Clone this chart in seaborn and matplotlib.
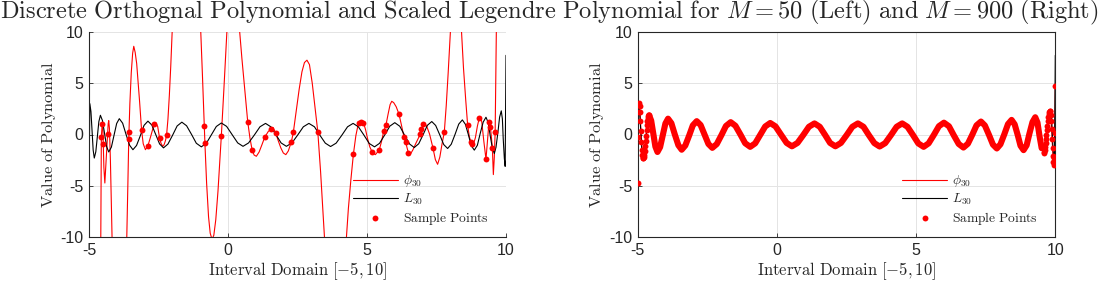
import matplotlib
matplotlib.use("Agg")
import matplotlib.pyplot as plt
import seaborn as sns
import pandas as pd

# ---- scaled Legendre L_30 ----
x_leg = [-5.00, -4.97, -4.93, -4.89, -4.85, -4.81, -4.755, -4.70, -4.645, -4.59,
         -4.515, -4.44, -4.365, -4.29, -4.195, -4.10, -4.005, -3.91, -3.79, -3.67,
         -3.54, -3.42, -3.29, -3.15, -3.02, -2.88, -2.74, -2.60, -2.46, -2.32,
         -2.16, -1.99, -1.83, -1.66, -1.49, -1.31, -1.14, -0.96, -0.78, -0.60,
         -0.42, -0.24, -0.05, 0.15, 0.35, 0.54, 0.74, 0.95, 1.15, 1.35,
         1.54, 1.73, 1.91, 2.10, 2.30, 2.51, 2.71, 2.91, 3.11, 3.30,
         3.50, 3.69, 3.89, 4.10, 4.30, 4.50, 4.69, 4.89, 5.08, 5.27,
         5.45, 5.64, 5.82, 6.00, 6.18, 6.35, 6.53, 6.70, 6.86, 7.02,
         7.17, 7.33, 7.47, 7.62, 7.76, 7.90, 8.03, 8.17, 8.30, 8.43,
         8.54, 8.65, 8.75, 8.86, 8.97, 9.07, 9.18, 9.28, 9.36, 9.43,
         9.51, 9.58, 9.64, 9.71, 9.77, 9.83, 9.87, 9.90, 9.94, 9.97, 10.00]
y_leg = [-4.7, 3.0, 2.23, 0.36, -1.52, -2.29, -1.68, -0.21, 1.26, 1.87,
         1.35, 0.09, -1.18, -1.70, -1.23, -0.08, 1.07, 1.54, 1.10, 0.03,
         -1.04, -1.48, -1.07, -0.09, 0.89, 1.30, 0.92, 0.00, -0.92, -1.30,
         -0.93, -0.05, 0.83, 1.20, 0.85, 0.00, -0.85, -1.20, -0.86, -0.04,
         0.78, 1.12, 0.79, -0.02, -0.82, -1.15, -0.82, -0.04, 0.75, 1.08,
         0.75, -0.04, -0.82, -1.15, -0.82, -0.04, 0.75, 1.08, 0.75, -0.05,
         -0.84, -1.17, -0.84, -0.05, 0.75, 1.08, 0.75, -0.06, -0.87, -1.20,
         -0.86, -0.03, 0.81, 1.15, 0.80, -0.06, -0.92, -1.27, -0.90, -0.01,
         0.89, 1.26, 0.88, -0.05, -0.98, -1.36, -0.95, 0.03, 1.01, 1.42,
         0.99, -0.05, -1.09, -1.52, -1.05, 0.08, 1.21, 1.68, 1.16, -0.09,
         -1.33, -1.85, -1.24, 0.23, 1.69, 2.30, 1.51, -0.40, -2.31, -3.10, 7.70]

# ---- discrete orthogonal polynomial phi_30, M = 50 ----
x_phi50 = [-5.00, -4.58, -4.565, -4.556, -4.526, -4.515, -4.50, -4.487, -4.465, -4.43,
           -4.395, -4.333, -4.31, -4.29, -4.265, -4.23, -4.19, -4.15, -4.05, -3.90,
           -3.75, -3.64, -3.60, -3.57, -3.53, -3.48, -3.43, -3.39, -3.34, -3.285,
           -3.23, -3.18, -3.11, -3.05, -2.97, -2.88, -2.78, -2.685, -2.645, -2.59,
           -2.53, -2.46, -2.41, -2.35, -2.30, -2.25, -2.21, -2.16, -2.11, -2.06,
           -2.01, -1.90, -1.50, -1.10, -0.98, -0.92, -0.855, -0.83, -0.77, -0.70,
           -0.64, -0.575, -0.51, -0.44, -0.36, -0.24, -0.15, -0.04, 0.05, 0.20,
           0.35, 0.42, 0.50, 0.60, 0.709, 0.79, 0.866, 0.94, 1.02, 1.12,
           1.22, 1.32, 1.45, 1.56, 1.62, 1.71, 1.80, 1.90, 1.99, 2.08,
           2.17, 2.28, 2.35, 2.46, 2.56, 2.66, 2.75, 2.84, 2.93, 3.03,
           3.13, 3.23, 3.33, 3.40, 3.47, 3.55, 3.85, 4.15, 4.26, 4.33,
           4.42, 4.51, 4.60, 4.68, 4.76, 4.84, 4.88, 4.95, 5.02, 5.10,
           5.19, 5.30, 5.44, 5.52, 5.60, 5.68, 5.76, 5.83, 5.89, 5.96,
           6.05, 6.15, 6.24, 6.33, 6.39, 6.49, 6.55, 6.65, 6.75, 6.85,
           6.92, 6.96, 7.03, 7.08, 7.15, 7.25, 7.37, 7.46, 7.54, 7.62,
           7.70, 7.78, 7.85, 7.92, 8.00, 8.20, 8.40, 8.47, 8.55, 8.62,
           8.68, 8.74, 8.79, 8.84, 8.90, 8.97, 9.04, 9.08, 9.13, 9.20,
           9.28, 9.33, 9.37, 9.40, 9.42, 9.44, 9.48, 9.51, 9.545, 9.58,
           9.61, 9.65, 9.70, 10.00]
y_phi50 = [-80, -12, -3.5, -0.22, 0.98, 1.1, 0.5, -0.88, -3.2, -4.72,
           -3.0, 0.05, 1.05, 1.35, 0.6, -2.5, -7.5, -13, -24, -30,
           -24, -10, -4.6, -0.41, 3.0, 6.0, 7.9, 8.58, 8.0, 6.9,
           5.0, 3.2, 0.47, -0.9, -1.48, -1.09, -0.18, 0.74, 0.99, 1.12,
           0.79, -0.37, -0.85, -1.15, -1.0, -0.6, -0.08, 1.5, 3.8, 6.6,
           10, 17, 28, 17, 10, 5.8, 0.86, -0.87, -4.7, -8.0,
           -9.6, -10.2, -9.8, -8.3, -5.5, -0.14, 4.3, 10, 15, 20,
           15, 10, 7.4, 4.5, 1.25, -0.35, -1.48, -2.0, -2.12, -1.7,
           -1.0, -0.27, 0.3, 0.56, 0.68, 0.19, -0.55, -1.3, -1.8, -1.96,
           -1.6, -0.70, 0.21, 2.4, 4.4, 6.1, 7.0, 7.23, 6.8, 5.0,
           2.6, 0.27, -3.6, -6.8, -10, -14, -22, -14, -10, -7.2,
           -4.4, -1.93, -0.1, 0.95, 1.2, 1.18, 1.1, 0.45, -0.4, -1.2,
           -1.73, -1.96, -1.51, -0.7, 0.3, 0.89, 2.0, 2.9, 3.23, 3.1,
           2.7, 1.99, 0.9, -0.24, -0.76, -1.80, -1.96, -1.5, -0.9, -0.35,
           0.05, 0.50, 0.99, 1.05, 0.78, 0.05, -1.28, -2.45, -2.9, -2.2,
           -0.9, 0.21, 2.8, 6.0, 10, 18, 10, 6.5, 3.4, 0.92,
           -0.2, -0.76, -0.92, -0.85, -0.3, 0.8, 1.63, 1.75, 1.2, -0.6,
           -2.41, -0.8, 0.6, 1.25, 1.35, 0.70, -0.4, -1.34, -3.9, -2.2,
           0.27, 10, 20, 60]

# sample points, M = 50
x_s50 = [-4.556, -4.526, -4.487, -4.333, -3.562, -3.57, -3.11, -2.88, -2.645, -2.46,
         -2.21, -0.855, -0.83, -0.24, 0.709, 0.866, 1.32, 1.56, 1.71, 2.28,
         2.35, 3.23, 4.51, 4.71, 4.79, 4.86, 5.19, 5.44, 5.60, 5.68,
         6.15, 6.33, 6.39, 6.49, 6.92, 6.96, 7.03, 7.37, 7.78, 8.62,
         8.74, 8.79, 9.04, 9.28, 9.40, 9.44, 9.51, 9.61]
y_s50 = [-0.22, 0.98, -0.88, 0.05, 0.27, -0.41, 0.47, -1.09, 0.99, -0.37,
         -0.08, 0.86, -0.87, -0.14, 1.25, -1.48, -0.27, 0.56, 0.19, -0.70,
         0.21, 0.27, -1.93, 1.15, 1.17, 1.15, -1.73, -1.51, 0.3, 0.89,
         1.99, -0.24, -0.76, -1.80, 0.05, 0.50, 0.99, -1.28, 0.21, 0.92,
         -0.76, -0.92, 1.63, -2.41, 1.25, 0.70, -1.34, 0.27]

# sample points, M = 900: separate dots at both ends, dense band in between
x900_left = [-5.000, -4.983, -4.967, -4.950, -4.933, -4.917, -4.900, -4.883, -4.867, -4.850,
             -4.833, -4.817, -4.800, -4.783, -4.767, -4.750, -4.733, -4.717, -4.700, -4.683,
             -4.667, -4.650, -4.633, -4.617, -4.600]
y900_left = [-4.75, -0.2, 2.2, 3.03, 2.8, 2.2, 1.3, 0.3, -0.7, -1.5,
             -2.0, -2.27, -2.3, -2.2, -1.95, -1.6, -1.1, -0.6, -0.1, 0.4,
             0.9, 1.3, 1.6, 1.8, 1.88]
x900_right = [9.583, 9.600, 9.617, 9.633, 9.650, 9.667, 9.683, 9.700, 9.717, 9.733,
              9.750, 9.767, 9.783, 9.800, 9.817, 9.833, 9.850, 9.867, 9.883, 9.900,
              9.917, 9.933, 9.950, 9.967, 9.983, 10.000]
y900_right = [-1.8, -1.7, -1.5, -1.2, -0.85, -0.45, -0.05, 0.4, 0.85, 1.3,
              1.7, 2.0, 2.2, 2.3, 2.25, 1.9, 1.3, 0.5, -0.4, -1.3,
              -2.1, -2.7, -3.0, -2.3, 0.15, 4.75]

title = (r"$\mathrm{Discrete\ Orthognal\ Polynomial\ and\ Scaled\ Legendre\ Polynomial\ for\ }"
         r"M=50\mathrm{\ (Left)\ and\ }M=900\mathrm{\ (Right)}$")

leg = pd.DataFrame({"x": x_leg, "y": y_leg})
phi50 = pd.DataFrame({"x": x_phi50, "y": y_phi50})
s50 = pd.DataFrame({"x": x_s50, "y": y_s50})
mid = leg[(leg.x > -4.6) & (leg.x < 9.58)]
ends900 = pd.DataFrame({"x": x900_left + x900_right, "y": y900_left + y900_right})
s900 = pd.concat([pd.DataFrame({"x": x900_left, "y": y900_left}), mid,
                  pd.DataFrame({"x": x900_right, "y": y900_right})], ignore_index=True)

sns.set_style("whitegrid")
plt.rcParams["font.family"] = ["Liberation Sans", "DejaVu Sans"]
plt.rcParams["mathtext.fontset"] = "cm"
plt.rcParams["axes.unicode_minus"] = False

fig = plt.figure(figsize=(10.99, 2.82), dpi=100)
ax1 = fig.add_axes([89 / 1099, 44.7 / 282, 417 / 1099, 205.6 / 282])
ax2 = fig.add_axes([637.7 / 1099, 44.7 / 282, 417.6 / 1099, 205.6 / 282])


def style(ax, box):
    ax.set_xlim(-5, 10)
    ax.set_ylim(-10, 10)
    ax.set_xticks([-5, 0, 5, 10])
    ax.set_yticks([-10, -5, 0, 5, 10])
    ax.grid(True, color="#e4e4e4", lw=0.7)
    ax.set_axisbelow(True)
    ax.tick_params(direction="in", length=3, width=0.6, labelsize=11.5,
                   colors="#262626", pad=4, left=True, bottom=True)
    for s in ["left", "bottom", "top", "right"]:
        ax.spines[s].set_color("#262626")
        ax.spines[s].set_linewidth(0.8)
    if not box:
        ax.spines["top"].set_visible(False)
        ax.spines["right"].set_visible(False)
    ax.set_xlabel(r"$\mathrm{Interval\ Domain\ }[-5,10]$", fontsize=12, labelpad=2)
    ax.set_ylabel(r"$\mathrm{Value\ of\ Polynomial}$", fontsize=11.8, labelpad=2)


# left: M = 50
sns.lineplot(data=phi50, x="x", y="y", ax=ax1, color="red", lw=0.8,
             sort=False, estimator=None, label=r"$\phi_{30}$")
sns.lineplot(data=leg, x="x", y="y", ax=ax1, color="black", lw=0.8,
             sort=False, estimator=None, label=r"$L_{30}$")
sns.scatterplot(data=s50, x="x", y="y", ax=ax1, color="red", s=18,
                linewidth=0, label=r"$\mathrm{Sample\ Points}$", zorder=5)

# right: M = 900
sns.lineplot(data=s900, x="x", y="y", ax=ax2, color="red", lw=0.8,
             sort=False, estimator=None, label=r"$\phi_{30}$")
sns.lineplot(data=leg, x="x", y="y", ax=ax2, color="black", lw=0.8,
             sort=False, estimator=None, label=r"$L_{30}$")
ax2.plot(mid.x, mid.y, color="red", lw=4.4, solid_capstyle="round",
         solid_joinstyle="round", zorder=4)
sns.scatterplot(data=ends900, x="x", y="y", ax=ax2, color="red", s=18,
                linewidth=0, label=r"$\mathrm{Sample\ Points}$", zorder=5)

for ax, box in [(ax1, False), (ax2, True)]:
    style(ax, box)
    h, l = ax.get_legend_handles_labels()
    ax.legend(h, l, loc="lower left", bbox_to_anchor=(0.632, 0.05), frameon=False,
              fontsize=9.7, handlelength=3.4, handletextpad=0.35, labelspacing=0.2,
              borderpad=0, borderaxespad=0)

fig.text(0.5, 1 - 12.5 / 282, title, ha="center", va="center", fontsize=17.6)

fig.savefig("out.png", dpi=100)
